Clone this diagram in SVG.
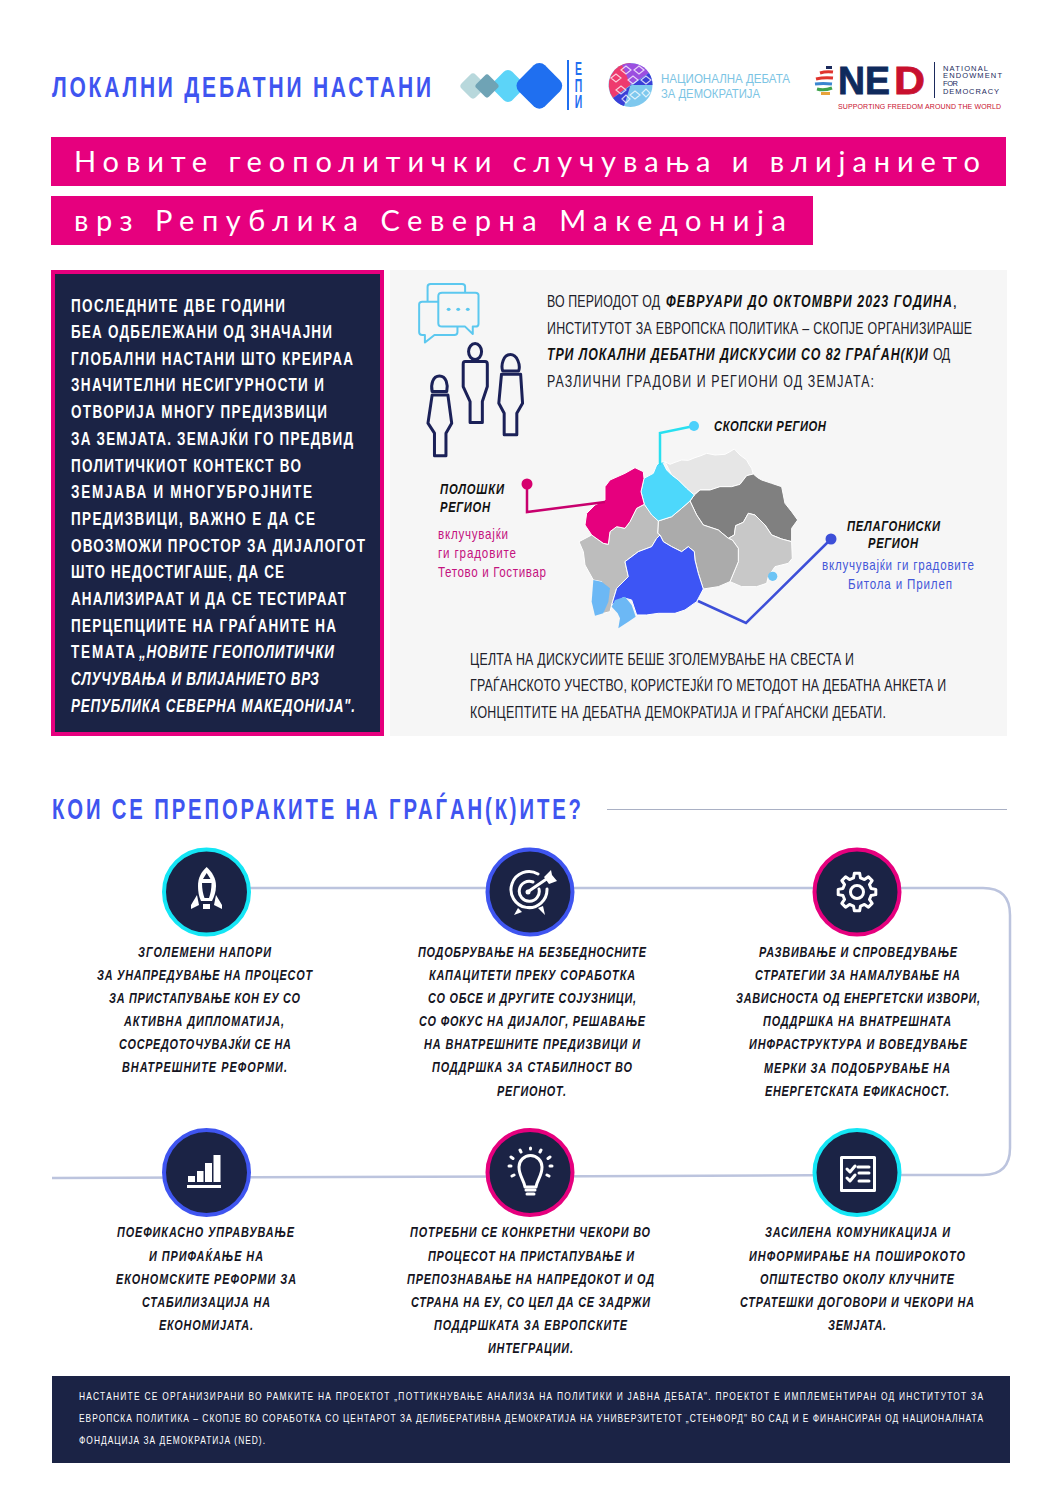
<svg xmlns="http://www.w3.org/2000/svg" width="1058" height="1497" viewBox="0 0 1058 1497">
<style>
text{font-family:"Liberation Sans",Arial,sans-serif;}
.ttl{font-size:30px;fill:#3f55f0;font-weight:bold;}
.ban{font-family:"Lato","Liberation Sans",sans-serif;font-size:29px;fill:#fff;font-weight:400;}
.lp{font-size:18px;fill:#fff;font-weight:bold;}
.lpb{font-size:18px;fill:#fff;font-weight:bold;font-style:italic;}
.b{font-size:16.500px;fill:#20202a;}
.bb{font-size:16.500px;fill:#111;font-weight:bold;font-style:italic;}
.reg{font-size:15px;fill:#111;font-style:italic;font-weight:bold;}
.pk{font-size:14.500px;fill:#c4127f;}
.bl{font-size:14.500px;fill:#4557d8;}
.rec{font-size:14.500px;fill:#15151f;font-style:italic;font-weight:bold;}
.ft{font-size:10.500px;fill:#fff;}
.ico{fill:none;stroke:#fff;stroke-width:3;stroke-linejoin:round;stroke-linecap:round;}
.w{fill:#fff;}
.dk{fill:#1b2345;}
.m{stroke:#fff;stroke-width:1;stroke-linejoin:round;vector-effect:non-scaling-stroke;}
.p{fill:none;stroke:#1b2158;stroke-width:3;vector-effect:non-scaling-stroke;stroke-linejoin:round;}
.c{fill:none;stroke:#5cc8ef;stroke-width:2;vector-effect:non-scaling-stroke;stroke-linejoin:round;}
</style>

<g id="header">
<text class="ttl" transform="translate(52 97) scale(.7 1)" textLength="541.400">ЛОКАЛНИ ДЕБАТНИ НАСТАНИ</text>
<g id="logo-epi">
<rect x="463" y="76" width="20" height="20" rx="4" transform="rotate(45 473 86)" fill="#b8d8dc"/>
<rect x="495" y="73" width="26" height="26" rx="6" transform="rotate(45 508 86)" fill="#5cd4f8"/>
<rect x="478" y="77" width="18" height="18" rx="3" transform="rotate(45 487 86)" fill="#6fa3b5"/>
<rect x="521" y="67" width="37" height="37" rx="8" transform="rotate(45 539 85.500)" fill="#1f6ff0"/>
<rect x="567" y="60" width="2" height="50" fill="#1f6ff0"/>
<text transform="translate(578.500 0) scale(.58 1)" font-size="18" font-weight="bold" fill="#1f6ff0" text-anchor="middle"><tspan x="0" y="75">Е</tspan><tspan x="0" y="92">П</tspan><tspan x="0" y="108">И</tspan></text>
</g>
<g id="logo-nd">
<circle cx="630.500" cy="85" r="22" fill="#7ec8ee"/>
<path d="M630.500,63A22,22 0 0 0 613,98L630.500,85Z" fill="#ee3a6e"/>
<path d="M622,65A22,22 0 0 1 649,73L630.500,85Z" fill="#9b4fe0"/>
<path d="M649,73A22,22 0 0 1 652.500,85L630.500,85L624,106A22,22 0 0 1 613,98Z" fill="#3a3fd8"/>
<g fill="none" stroke="#fff" stroke-width="1.200" opacity=".75"><path d="M611,78l5,-4l5,4l-5,4ZM621,70l5,-4l5,4l-5,4ZM634,70l5,-4l5,4l-5,4ZM628,80l5,-4l5,4l-5,4ZM641,80l5,-4l5,4l-5,4ZM616,90l5,-4l5,4l-5,4ZM630,95l5,-4l5,4l-5,4ZM642,93l4,-4l4,4l-4,4ZM622,99l4,-4l4,4l-4,4Z"/></g>
<text x="661" y="83" font-size="13" fill="#7cc4e4" textLength="129" lengthAdjust="spacingAndGlyphs">НАЦИОНАЛНА ДЕБАТА</text>
<text x="661" y="98" font-size="13" fill="#7cc4e4" textLength="99" lengthAdjust="spacingAndGlyphs">ЗА ДЕМОКРАТИЈА</text>
</g>
<g id="logo-ned">
<g fill="none" stroke-width="3"><path d="M826,67.500h6" stroke="#1b2a5c"/><path d="M820,73q6,-2 13,-1" stroke="#e0342e"/><path d="M816,79q8,-2 17,-1" stroke="#e0342e"/><path d="M815,84q8,-1 17,0" stroke="#3a86d0"/><path d="M817,89q7,2 15,-1" stroke="#3fa34d"/><path d="M821,93.500h9" stroke="#e8a33a"/></g>
<text transform="translate(838 94)" font-size="39" font-weight="bold" fill="#0f2a5c" stroke="#0f2a5c" stroke-width=".8" textLength="52" lengthAdjust="spacingAndGlyphs">NE</text>
<text transform="translate(894 94)" font-size="39" font-weight="bold" fill="#c8102e" stroke="#c8102e" stroke-width=".8" textLength="31" lengthAdjust="spacingAndGlyphs">D</text>
<rect x="934" y="62" width="1" height="36" fill="#1b2a5c"/>
<g font-size="7.500" fill="#1b2a5c">
<text x="943" y="71" textLength="45">NATIONAL</text>
<text x="943" y="78" textLength="59">ENDOWMENT</text>
<text x="943" y="86" textLength="15">FOR</text>
<text x="943" y="94" textLength="56">DEMOCRACY</text>
</g>
<text x="838" y="109" font-size="7" fill="#c8102e" textLength="163">SUPPORTING FREEDOM AROUND THE WORLD</text>
</g>
</g>

<g id="banner">
<rect x="51" y="137" width="955" height="49" fill="#e6007e"/>
<rect x="51" y="196" width="762" height="49" fill="#e6007e"/>
<text class="ban" x="74" y="172" textLength="906">Новите геополитички случувања и влијанието</text>
<text class="ban" x="74" y="231" textLength="712">врз Република Северна Македонија</text>
</g>

<g id="left-panel">
<rect x="53" y="272" width="329" height="462" fill="#1b2345" stroke="#e6007e" stroke-width="4"/>
<text class="lp" transform="translate(71 312) scale(.75 1)" textLength="285.300">ПОСЛЕДНИТЕ ДВЕ ГОДИНИ</text>
<text class="lp" transform="translate(71 338) scale(.75 1)" textLength="348">БЕА ОДБЕЛЕЖАНИ ОД ЗНАЧАЈНИ</text>
<text class="lp" transform="translate(71 365) scale(.75 1)" textLength="376">ГЛОБАЛНИ НАСТАНИ ШТО КРЕИРАА</text>
<text class="lp" transform="translate(71 391) scale(.75 1)" textLength="337.300">ЗНАЧИТЕЛНИ НЕСИГУРНОСТИ И</text>
<text class="lp" transform="translate(71 418) scale(.75 1)" textLength="341.300">ОТВОРИЈА МНОГУ ПРЕДИЗВИЦИ</text>
<text class="lp" transform="translate(71 445) scale(.75 1)" textLength="376">ЗА ЗЕМЈАТА. ЗЕМАЈЌИ ГО ПРЕДВИД</text>
<text class="lp" transform="translate(71 472) scale(.75 1)" textLength="306.700">ПОЛИТИЧКИОТ КОНТЕКСТ ВО</text>
<text class="lp" transform="translate(71 498) scale(.75 1)" textLength="321.300">ЗЕМЈАВА И МНОГУБРОЈНИТЕ</text>
<text class="lp" transform="translate(71 525) scale(.75 1)" textLength="325.300">ПРЕДИЗВИЦИ, ВАЖНО Е ДА СЕ</text>
<text class="lp" transform="translate(71 552) scale(.75 1)" textLength="392">ОВОЗМОЖИ ПРОСТОР ЗА ДИЈАЛОГОТ</text>
<text class="lp" transform="translate(71 578) scale(.75 1)" textLength="284">ШТО НЕДОСТИГАШЕ, ДА СЕ</text>
<text class="lp" transform="translate(71 605) scale(.75 1)" textLength="366.700">АНАЛИЗИРААТ И ДА СЕ ТЕСТИРААТ</text>
<text class="lp" transform="translate(71 632) scale(.75 1)" textLength="353.300">ПЕРЦЕПЦИИТЕ НА ГРАЃАНИТЕ НА</text>
<text class="lp" transform="translate(71 658) scale(.75 1)" textLength="85.300">ТЕМАТА</text>
<text class="lpb" transform="translate(139 658) scale(.75 1)" textLength="260">„НОВИТЕ ГЕОПОЛИТИЧКИ</text>
<text class="lpb" transform="translate(71 685) scale(.75 1)" textLength="330.700">СЛУЧУВАЊА И ВЛИЈАНИЕТО ВРЗ</text>
<text class="lpb" transform="translate(71 712) scale(.75 1)" textLength="378.700">РЕПУБЛИКА СЕВЕРНА МАКЕДОНИЈА".</text>
</g>

<g id="right-panel">
<rect x="390" y="270" width="617" height="466" fill="#f6f6f6"/>
<g id="icon-chat" transform="translate(400,270) scale(.383,.333)">
<path class="c" d="M72,95V50Q72,42 80,42H162Q170,42 170,50V68"/>
<path class="c" d="M100,95H58Q50,95 50,103V187Q50,195 58,195H65V218L90,195H142Q150,195 150,187V170"/>
<path class="c" d="M110,68H197Q205,68 205,76V162Q205,170 197,170H190V192L170,170H110Q100,170 100,160V78Q100,68 110,68Z"/>
<g fill="#5cc8ef"><ellipse cx="127" cy="118" rx="5" ry="5"/><ellipse cx="152" cy="118" rx="5" ry="5"/><ellipse cx="177" cy="118" rx="5" ry="5"/></g>
</g>
<g id="icon-people" transform="translate(400,270) scale(.383,.333)">
<path class="p" d="M103,318C85,318 80,345 84,365H122C126,345 121,318 103,318Z"/>
<path class="p" d="M84,375H125L135,460L120,490V558H90V490L73,460Z"/>
<ellipse class="p" cx="196" cy="245" rx="17" ry="24"/>
<path class="p" d="M170,275H222Q228,275 228,283V350L215,395V458H183V395L165,350V283Q165,275 170,275Z"/>
<path class="p" d="M288,254C270,254 263,285 268,303H310C315,285 306,254 288,254Z"/>
<path class="p" d="M265,313H315L320,400L305,430V495H272V430L258,400Z"/>
</g>
<text class="b" transform="translate(547 307) scale(.75 1)" textLength="150.700">ВО ПЕРИОДОТ ОД</text>
<text class="bb" transform="translate(666 307) scale(.75 1)" textLength="381.300">ФЕВРУАРИ ДО ОКТОМВРИ 2023 ГОДИНА</text>
<text class="b" x="952.500" y="307">,</text>
<text class="b" transform="translate(547 334) scale(.75 1)" textLength="566.700">ИНСТИТУТОТ ЗА ЕВРОПСКА ПОЛИТИКА – СКОПЈЕ ОРГАНИЗИРАШЕ</text>
<text class="bb" transform="translate(547 360) scale(.75 1)" textLength="508">ТРИ ЛОКАЛНИ ДЕБАТНИ ДИСКУСИИ СО 82 ГРАЃАН(К)И</text>
<text class="b" transform="translate(933 360) scale(.75 1)" textLength="22.700">ОД</text>
<text class="b" transform="translate(547 387) scale(.75 1)" textLength="436">РАЗЛИЧНИ ГРАДОВИ И РЕГИОНИ ОД ЗЕМЈАТА:</text>

<g id="map" transform="translate(575,445) scale(.3333)">
<path class="m" fill="#e6e6e6" d="M270,50L285,58L300,52L320,45L340,46L360,38L378,32L395,25L420,30L450,28L465,20L478,12L495,30L515,45L522,58L530,70L535,87L515,92L495,118L470,125L435,125L405,135L375,135L355,150L335,130L310,105L290,90L280,70Z"/>
<path class="m" fill="#808080" d="M358,150L375,135L405,135L435,125L470,125L495,118L515,92L535,87L548,98L560,105L590,115L620,125L625,150L630,175L650,200L668,225L650,250L650,290L620,282L590,270L570,240L540,210L520,205L505,232L482,242L478,270L460,280L430,255L385,240L365,210L345,168Z"/>
<path class="m" fill="#c8c8c8" d="M520,205L540,210L570,240L590,270L620,282L650,290L652,340L640,355L600,365L580,395L575,415L545,425L500,425L465,410L490,350L490,310L472,285L460,280L478,270L482,242L505,232Z"/>
<path class="m" fill="#ababab" d="M345,168L365,210L385,240L430,255L460,280L472,285L490,310L490,350L465,410L430,425L385,432L370,385L360,345L358,320L340,305L320,320L290,305L265,290L255,270L248,265L250,228L290,215L320,190Z"/>
<path class="m" fill="#bdbdbd" d="M208,178L250,228L248,265L255,270L245,280L230,305L190,320L150,350L160,395L125,430L110,480L105,500L85,505L80,410L55,405L30,360L25,320L12,290L50,270L85,295L100,298L105,260L125,245L150,250L165,230L185,190Z"/>
<path class="m" fill="#4dd8fb" d="M255,52L270,50L265,55L275,75L290,90L310,105L335,130L358,150L345,168L320,190L290,215L250,228L230,210L208,178L198,140L207,100L235,85L245,60Z"/>
<path class="m" fill="#e6007e" d="M180,68L205,80L207,100L198,140L208,178L185,190L165,230L150,250L125,245L105,260L100,298L85,295L50,270L30,240L35,205L60,180L90,165L90,125L105,105L150,85Z"/>
<path class="m" fill="#3d55f5" d="M255,270L265,290L290,305L320,320L340,305L358,320L360,345L370,385L385,432L365,470L330,495L300,505L250,505L215,510L185,510L170,465L145,458L110,480L125,430L160,395L150,350L190,320L230,305L245,280Z"/>
<path fill="#6cb8f5" d="M55,405L80,410L105,430L100,470L85,505L60,512L50,470Z"/>
<path fill="#6cb8f5" d="M120,465L150,455L170,480L182,515L160,530L130,550L135,520L128,505L110,485Z"/>
<circle cx="593" cy="394" r="14" fill="#6cc4f5"/>
</g>

<g id="map-connectors" fill="none" stroke-width="2.500">
<path d="M694,426L660,433V465" stroke="#28e0f0"/>
<path d="M527,484V512L605,502" stroke="#c8006e"/>
<path d="M831,539L746,623L698,601" stroke="#3d4fd8"/>
<circle cx="694" cy="426" r="5" fill="#4dd0fb" stroke="none"/>
<circle cx="527" cy="484" r="5.500" fill="#d6006e" stroke="none"/>
<circle cx="831" cy="539" r="5.500" fill="#3d4fd8" stroke="none"/>
</g>
<text class="reg" transform="translate(714 431) scale(.75 1)" textLength="149.300">СКОПСКИ РЕГИОН</text>
<text class="reg" transform="translate(440 494) scale(.75 1)" textLength="85.300">ПОЛОШКИ</text>
<text class="reg" transform="translate(440 512) scale(.75 1)" textLength="66.700">РЕГИОН</text>
<text class="pk" transform="translate(438 539) scale(.8 1)" textLength="87.500">вклучувајќи</text>
<text class="pk" transform="translate(438 558) scale(.8 1)" textLength="97.500">ги градовите</text>
<text class="pk" transform="translate(438 577) scale(.8 1)" textLength="135">Тетово и Гостивар</text>
<text class="reg" transform="translate(847 531) scale(.75 1)" textLength="124">ПЕЛАГОНИСКИ</text>
<text class="reg" transform="translate(868 548) scale(.75 1)" textLength="66.700">РЕГИОН</text>
<text class="bl" transform="translate(822 570) scale(.8 1)" textLength="190">вклучувајќи ги градовите</text>
<text class="bl" transform="translate(848 589) scale(.8 1)" textLength="130">Битола и Прилеп</text>
<text class="b" transform="translate(470 665) scale(.75 1)" textLength="512">ЦЕЛТА НА ДИСКУСИИТЕ БЕШЕ ЗГОЛЕМУВАЊЕ НА СВЕСТА И</text>
<text class="b" transform="translate(470 691) scale(.75 1)" textLength="634.700">ГРАЃАНСКОТО УЧЕСТВО, КОРИСТЕЈЌИ ГО МЕТОДОТ НА ДЕБАТНА АНКЕТА И</text>
<text class="b" transform="translate(470 718) scale(.75 1)" textLength="554.700">КОНЦЕПТИТЕ НА ДЕБАТНА ДЕМОКРАТИЈА И ГРАЃАНСКИ ДЕБАТИ.</text>
</g>

<g id="recommendations-heading">
<text class="ttl" transform="translate(52 819) scale(.7 1)" textLength="755.700" style="font-size:29px">КОИ СЕ ПРЕПОРАКИТЕ НА ГРАЃАН(К)ИТЕ?</text>
<rect x="607" y="809" width="400" height="1" fill="#a9b0c4"/>
</g>

<g id="connectors">
<path d="M206,888H983Q1010,888 1010,915V1148Q1010,1175 983,1175H857L530,1176.500L52,1178" fill="none" stroke="#bcc4de" stroke-width="2.500"/>
</g>

<g id="node-rocket">
<circle cx="206.500" cy="892" r="42.500" class="dk" stroke="#14e6f5" stroke-width="4"/>
<path class="w" d="M206.700,867C201,872 198,878 198,886C198,892 199,897 201,901H212C214,897 216,892 216,886C216,878 212,872 206.700,867Z"/>
<path class="dk" d="M202,883H211.500C211.500,889 210.500,894 209,898H204.500C203,894 202,889 202,883ZM206.700,873L203,879H210.500Z"/>
<path class="w" d="M197,895L191,905V909L199,905ZM216,895L222,905V909L214,905ZM203,904H210V909H203Z"/>
</g>
<g id="node-target">
<circle cx="530" cy="892" r="42.500" class="dk" stroke="#3f55f0" stroke-width="4"/>
<path class="ico" d="M538,874A18,18 0 1 0 547,889M533,882A10,10 0 1 0 539,889"/>
<circle cx="528" cy="892" r="2.500" class="w"/>
<path class="ico" d="M529,891L548,878"/>
<path class="w" d="M544,877L551,870L552,875L557,881L549,884Z"/>
<path class="w" d="M518,908L514,915L522,912ZM538,908L545,915L543,906Z"/>
</g>
<g id="node-gear">
<circle cx="857" cy="892" r="42.500" class="dk" stroke="#e6007e" stroke-width="4"/>
<g transform="translate(857,892)">
<path class="ico" d="M-3.500,-14.070L-2.640,-18.800L2.640,-18.800L3.500,-14.070L7.470,-12.430L11.430,-15.170L15.170,-11.430L12.430,-7.470L14.070,-3.500L18.800,-2.640L18.800,2.640L14.070,3.500L12.430,7.470L15.170,11.430L11.430,15.170L7.470,12.430L3.500,14.070L2.640,18.800L-2.640,18.800L-3.500,14.070L-7.470,12.430L-11.430,15.170L-15.170,11.430L-12.430,7.470L-14.070,3.500L-18.800,2.640L-18.800,-2.640L-14.070,-3.500L-12.430,-7.470L-15.170,-11.430L-11.430,-15.170L-7.470,-12.430Z"/>
<circle class="ico" r="6.500"/>
</g>
</g>
<g id="node-bars">
<circle cx="206.500" cy="1172.500" r="42.500" class="dk" stroke="#3f55f0" stroke-width="4"/>
<path class="w" d="M188,1176H195V1182H188ZM197,1171H203.500V1182H197ZM205,1163H212V1182H205ZM213.500,1155H220.500V1182H213.500ZM187,1185H221V1188H187Z"/>
</g>
<g id="node-bulb">
<circle cx="530" cy="1172.500" r="42.500" class="dk" stroke="#e6007e" stroke-width="4"/>
<path class="ico" d="M525,1187C524,1180 519,1176 519,1167A11.500,11.500 0 1 1 542,1167C542,1176 537,1180 536,1187Z"/>
<path class="ico" d="M526,1190H535M527,1194H534"/>
<path class="ico" stroke-width="2.500" d="M530.500,1148V1149M520,1150L521,1152M541,1150L540,1152M511,1157L513,1158.500M550,1157L548,1158.500M509,1166H511M550,1166H552M512,1176L514,1175M549,1176L547,1175"/>
</g>
<g id="node-checklist">
<circle cx="857" cy="1172.500" r="42.500" class="dk" stroke="#14e6f5" stroke-width="4"/>
<rect class="ico" stroke-linejoin="miter" x="841.500" y="1157.500" width="33" height="33"/>
<path class="ico" stroke-width="2.500" d="M847,1169L850,1172L855,1166M847,1178L850,1181L855,1175M858,1167H869M859,1173H869M859,1181H869"/>
</g>

<g id="rec-1">
<text class="rec" transform="translate(138 957) scale(.75 1)" textLength="177.300">ЗГОЛЕМЕНИ НАПОРИ</text>
<text class="rec" transform="translate(97 980) scale(.75 1)" textLength="286.700">ЗА УНАПРЕДУВАЊЕ НА ПРОЦЕСОТ</text>
<text class="rec" transform="translate(109 1003) scale(.75 1)" textLength="254.700">ЗА ПРИСТАПУВАЊЕ КОН ЕУ СО</text>
<text class="rec" transform="translate(124 1026) scale(.75 1)" textLength="213.300">АКТИВНА ДИПЛОМАТИЈА,</text>
<text class="rec" transform="translate(119 1049) scale(.75 1)" textLength="229.300">СОСРЕДОТОЧУВАЈЌИ СЕ НА</text>
<text class="rec" transform="translate(122 1072) scale(.75 1)" textLength="220">ВНАТРЕШНИТЕ РЕФОРМИ.</text>
</g>
<g id="rec-2">
<text class="rec" transform="translate(418 957) scale(.75 1)" textLength="304">ПОДОБРУВАЊЕ НА БЕЗБЕДНОСНИТЕ</text>
<text class="rec" transform="translate(429 980) scale(.75 1)" textLength="274.700">КАПАЦИТЕТИ ПРЕКУ СОРАБОТКА</text>
<text class="rec" transform="translate(428 1003) scale(.75 1)" textLength="277.300">СО ОБСЕ И ДРУГИТЕ СОЈУЗНИЦИ,</text>
<text class="rec" transform="translate(419 1026) scale(.75 1)" textLength="301.300">СО ФОКУС НА ДИЈАЛОГ, РЕШАВАЊЕ</text>
<text class="rec" transform="translate(424 1049) scale(.75 1)" textLength="288">НА ВНАТРЕШНИТЕ ПРЕДИЗВИЦИ И</text>
<text class="rec" transform="translate(432 1072) scale(.75 1)" textLength="266.700">ПОДДРШКА ЗА СТАБИЛНОСТ ВО</text>
<text class="rec" transform="translate(497 1096) scale(.75 1)" textLength="92">РЕГИОНОТ.</text>
</g>
<g id="rec-3">
<text class="rec" transform="translate(759 957) scale(.75 1)" textLength="264">РАЗВИВАЊЕ И СПРОВЕДУВАЊЕ</text>
<text class="rec" transform="translate(755 980) scale(.75 1)" textLength="273.300">СТРАТЕГИИ ЗА НАМАЛУВАЊЕ НА</text>
<text class="rec" transform="translate(736 1003) scale(.75 1)" textLength="325.300">ЗАВИСНОСТА ОД ЕНЕРГЕТСКИ ИЗВОРИ,</text>
<text class="rec" transform="translate(763 1026) scale(.75 1)" textLength="250.700">ПОДДРШКА НА ВНАТРЕШНАТА</text>
<text class="rec" transform="translate(749 1049) scale(.75 1)" textLength="290.700">ИНФРАСТРУКТУРА И ВОВЕДУВАЊЕ</text>
<text class="rec" transform="translate(764 1073) scale(.75 1)" textLength="248">МЕРКИ ЗА ПОДОБРУВАЊЕ НА</text>
<text class="rec" transform="translate(765 1096) scale(.75 1)" textLength="245.300">ЕНЕРГЕТСКАТА ЕФИКАСНОСТ.</text>
</g>
<g id="rec-4">
<text class="rec" transform="translate(117 1237) scale(.75 1)" textLength="236">ПОЕФИКАСНО УПРАВУВАЊЕ</text>
<text class="rec" transform="translate(149 1261) scale(.75 1)" textLength="152">И ПРИФАЌАЊЕ НА</text>
<text class="rec" transform="translate(116 1284) scale(.75 1)" textLength="240">ЕКОНОМСКИТЕ РЕФОРМИ ЗА</text>
<text class="rec" transform="translate(142 1307) scale(.75 1)" textLength="170.700">СТАБИЛИЗАЦИЈА НА</text>
<text class="rec" transform="translate(159 1330) scale(.75 1)" textLength="125.300">ЕКОНОМИЈАТА.</text>
</g>
<g id="rec-5">
<text class="rec" transform="translate(410 1237) scale(.75 1)" textLength="320">ПОТРЕБНИ СЕ КОНКРЕТНИ ЧЕКОРИ ВО</text>
<text class="rec" transform="translate(428 1261) scale(.75 1)" textLength="274.700">ПРОЦЕСОТ НА ПРИСТАПУВАЊЕ И</text>
<text class="rec" transform="translate(407 1284) scale(.75 1)" textLength="329.300">ПРЕПОЗНАВАЊЕ НА НАПРЕДОКОТ И ОД</text>
<text class="rec" transform="translate(411 1307) scale(.75 1)" textLength="318.700">СТРАНА НА ЕУ, СО ЦЕЛ ДА СЕ ЗАДРЖИ</text>
<text class="rec" transform="translate(434 1330) scale(.75 1)" textLength="257.300">ПОДДРШКАТА ЗА ЕВРОПСКИТЕ</text>
<text class="rec" transform="translate(488 1353) scale(.75 1)" textLength="113.300">ИНТЕГРАЦИИ.</text>
</g>
<g id="rec-6">
<text class="rec" transform="translate(765 1237) scale(.75 1)" textLength="246.700">ЗАСИЛЕНА КОМУНИКАЦИЈА И</text>
<text class="rec" transform="translate(749 1261) scale(.75 1)" textLength="288">ИНФОРМИРАЊЕ НА ПОШИРОКОТО</text>
<text class="rec" transform="translate(760 1284) scale(.75 1)" textLength="258.700">ОПШТЕСТВО ОКОЛУ КЛУЧНИТЕ</text>
<text class="rec" transform="translate(740 1307) scale(.75 1)" textLength="312">СТРАТЕШКИ ДОГОВОРИ И ЧЕКОРИ НА</text>
<text class="rec" transform="translate(828 1330) scale(.75 1)" textLength="77.300">ЗЕМЈАТА.</text>
</g>

<g id="footer">
<rect x="52" y="1376" width="958" height="87" fill="#1b2345"/>
<text class="ft" transform="translate(79 1400) scale(.8 1)" textLength="1130">НАСТАНИТЕ СЕ ОРГАНИЗИРАНИ ВО РАМКИТЕ НА ПРОЕКТОТ „ПОТТИКНУВАЊЕ АНАЛИЗА НА ПОЛИТИКИ И ЈАВНА ДЕБАТА". ПРОЕКТОТ Е ИМПЛЕМЕНТИРАН ОД ИНСТИТУТОТ ЗА</text>
<text class="ft" transform="translate(79 1422) scale(.8 1)" textLength="1130">ЕВРОПСКА ПОЛИТИКА – СКОПЈЕ ВО СОРАБОТКА СО ЦЕНТАРОТ ЗА ДЕЛИБЕРАТИВНА ДЕМОКРАТИЈА НА УНИВЕРЗИТЕТОТ „СТЕНФОРД" ВО САД И Е ФИНАНСИРАН ОД НАЦИОНАЛНАТА</text>
<text class="ft" transform="translate(79 1444) scale(.8 1)" textLength="232.500">ФОНДАЦИЈА ЗА ДЕМОКРАТИЈА (NED).</text>
</g>
</svg>
